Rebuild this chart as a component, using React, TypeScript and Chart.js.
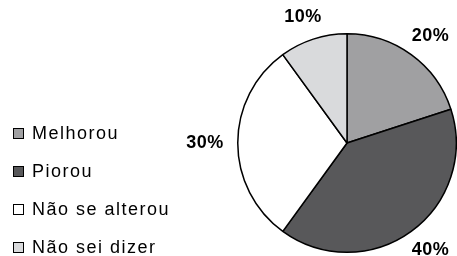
import React, { useEffect, useRef } from "react";
import { Chart, registerables } from "chart.js";
Chart.register(...registerables);

const categories = ["Melhorou", "Piorou", "Não se alterou", "Não sei dizer"];
const values = [20, 40, 30, 10];
const pctLabels = ["20%", "40%", "30%", "10%"];
const colors = ["#a0a0a2", "#58585a", "#ffffff", "#d9dadc"];

const FONT = "'Liberation Sans', Arial, sans-serif";

const outsideLabels = {
  id: "outsideLabels",
  afterDatasetsDraw(chart: any) {
    const ctx = chart.ctx;
    const meta = chart.getDatasetMeta(0);
    ctx.save();
    ctx.font = `bold 18px ${FONT}`;
    (ctx as any).letterSpacing = "0.5px";
    ctx.fillStyle = "#000";
    ctx.textAlign = "center";
    ctx.textBaseline = "middle";
    meta.data.forEach((arc: any, i: number) => {
      const p = arc.getProps(["x", "y", "startAngle", "endAngle", "outerRadius"], true);
      const mid = (p.startAngle + p.endAngle) / 2;
      const dx = Math.cos(mid);
      const dy = Math.sin(mid);
      const text = pctLabels[i];
      const w = ctx.measureText(text).width;
      const h = 18;
      const R = p.outerRadius + 14;
      const x = p.x + dx * R + (dx * w) / 2;
      const y = p.y + dy * R + (dy * h) / 2;
      ctx.fillText(text, x, y);
    });
    ctx.restore();
  },
};

export default function App() {
  const ref = useRef<HTMLCanvasElement>(null);
  useEffect(() => {
    if (!ref.current) return;
    const chart = new Chart(ref.current, {
      type: "pie",
      data: {
        labels: categories,
        datasets: [
          {
            data: values,
            backgroundColor: colors,
            borderColor: "#000",
            borderWidth: 1.5,
          },
        ],
      },
      options: {
        responsive: false,
        animation: false,
        layout: { padding: { left: 237, top: 33, right: 0, bottom: 3 } },
        plugins: {
          legend: { display: false },
          tooltip: { enabled: false },
        },
      },
      plugins: [outsideLabels],
    });
    return () => chart.destroy();
  }, []);

  return (
    <div style={{ position: "absolute", left: 0, top: 0, width: 457, height: 256, overflow: "hidden", background: "#fff" }}>
      <canvas ref={ref} width={457} height={256} style={{ position: "absolute", left: 0, top: 0 }} />
      {categories.map((c, i) => (
        <div
          key={c}
          style={{
            position: "absolute",
            left: 13,
            top: 133 + 38.2 * i - 11,
            height: 22,
            display: "flex",
            alignItems: "center",
            fontFamily: FONT,
            fontSize: 18,
            letterSpacing: "1.5px",
            color: "#000",
            whiteSpace: "nowrap",
          }}
        >
          <span
            style={{
              width: 11,
              height: 11,
              boxSizing: "border-box",
              border: "1.5px solid #000",
              background: colors[i],
              marginRight: 8,
              display: "inline-block",
            }}
          />
          <span>{c}</span>
        </div>
      ))}
    </div>
  );
}
